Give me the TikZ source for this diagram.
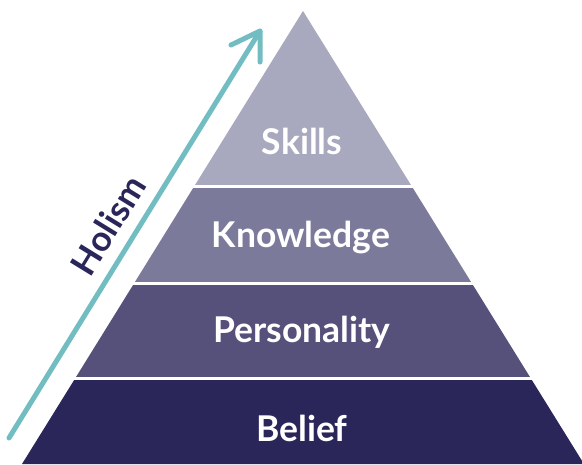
\documentclass[tikz,border=0pt]{standalone}
\usepackage{fontspec}
\setmainfont{Lato}
\usetikzlibrary{arrows.meta}
\definecolor{cSkills}{HTML}{A8A8BE}
\definecolor{cKnow}{HTML}{7B7A9B}
\definecolor{cPers}{HTML}{55517A}
\definecolor{cBelief}{HTML}{2A2659}
\definecolor{cTeal}{HTML}{72BDC2}
\begin{document}
\begin{tikzpicture}[x=1pt,y=-1pt,
  sep/.style={draw=white,line width=3pt},
  lbl/.style={text=white,font=\bfseries\fontsize{35.5}{35.5}\selectfont,inner sep=0pt}]
\useasboundingbox (0,0) rectangle (582,464);
% layers
\fill[cSkills] (303,11) -- (411.6,186) -- (194.4,186) -- cycle;
\fill[cKnow] (194.4,186) -- (411.6,186) -- (471.7,283) -- (134.3,283) -- cycle;
\fill[cPers] (134.3,283) -- (471.7,283) -- (530.6,378) -- (75.4,378) -- cycle;
\fill[cBelief] (75.4,378) -- (530.6,378) -- (584,464) -- (22,464) -- cycle;
% separators
\draw[sep] (190,186) -- (416,186);
\draw[sep] (130,283) -- (476,283);
\draw[sep] (70,378) -- (536,378);
% labels
\node[lbl] (skills) at (302,141) {Skills};
\node[lbl] (know) at (301,238) {Knowledge};
\node[lbl] (pers) at (302,332) {Personality};
\node[lbl] (belief) at (302,428) {Belief};
% arrow
\coordinate (tail) at (9,438);
\coordinate (tip) at (260,31);
\draw[cTeal,line width=5pt,line cap=round,line join=round] (tail) -- (tip);
\draw[cTeal,line width=5pt,line cap=round,line join=round] (231,45) -- (tip) -- (260,62);
\node[text=cBelief,font=\bfseries\fontsize{35}{35}\selectfont,inner sep=0pt,rotate=58.4] (holism) at (108,225) {Holism};
\end{tikzpicture}
\end{document}
